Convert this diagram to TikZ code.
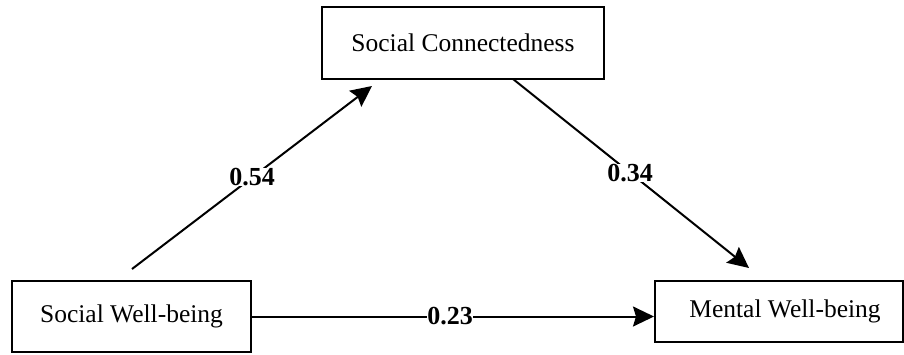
\documentclass[tikz,border=0pt]{standalone}
\usepackage{fontspec}
\setmainfont{Liberation Serif}
\usetikzlibrary{arrows.meta}

\begin{document}
\begin{tikzpicture}[x=1pt, y=-1pt, line width=2pt, line join=miter,
  varbox/.style={draw, line width=2pt, inner sep=0pt, font=\fontsize{25.5}{30}\selectfont},
  coef/.style={fill=white, inner sep=0.5pt, font=\fontsize{26}{30}\selectfont\bfseries},
  path/.style={-{Stealth[length=21pt, width=20pt, inset=3pt]}}]

  %% ════ 变量框 ════
  \node[varbox, minimum width=282pt, minimum height=72pt] (sc)  at (463.0,43.0)  {Social Connectedness};
  \node[varbox, minimum width=239pt, minimum height=71pt] (swb) at (131.5,316.5) {Social Well-being};
  \node[varbox, minimum width=248pt, minimum height=61pt] (mwb) at (779.0,311.5) {\hspace{12pt}Mental Well-being};

  %% ════ 路径端点 ════
  \coordinate (a1) at (132.0,269.0);
  \coordinate (a2) at (372.0,86.0);
  \coordinate (b1) at (513.0,79.0);
  \coordinate (b2) at (749.0,268.0);

  %% ════ 路径 ════
  \draw[path] (a1) -- (a2);
  \draw[path] (b1) -- (b2);
  \draw[path] (swb.east) -- (swb.east -| mwb.west);

  %% ════ 系数 ════
  \node[coef] (c54) at (252.0,177.0) {0.54};
  \node[coef] (c34) at (630.0,173.0) {0.34};
  \node[coef] (c23) at (450.0,316.5) {0.23};

  % 钉死画布
  \pgfresetboundingbox
  \path[use as bounding box] (0,0) rectangle (904,354);
\end{tikzpicture}
\end{document}
